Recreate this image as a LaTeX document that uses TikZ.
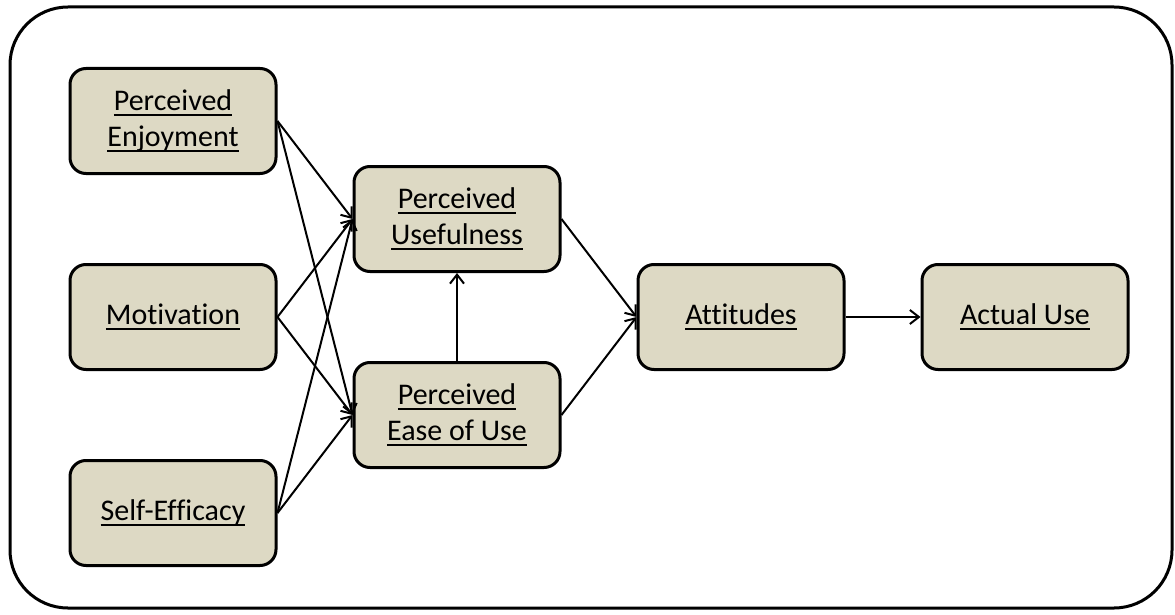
\documentclass[tikz,border=0pt]{standalone}
\usepackage{fontspec}
\setmainfont{Carlito}[Ligatures=NoCommon]
\usepackage{tikz}
\usetikzlibrary{arrows.meta,positioning,calc}
\definecolor{tanfill}{HTML}{DDD9C4}
\newcommand{\ulword}[1]{\setbox0\hbox{#1}\rlap{\vrule height -3pt depth 5pt width \wd0}\box0}
\tikzset{
  construct/.style={draw,line width=3pt,rounded corners=16pt,fill=tanfill,align=center,
    minimum width=206pt,minimum height=105pt,inner sep=2pt,font=\fontsize{30}{36}\selectfont},
  arr/.style={-{Straight Barb[length=9pt,width=14pt]},line width=2pt},
  frame/.style={draw,line width=3pt,rounded corners=58pt}
}

\begin{document}
\begin{tikzpicture}[node distance=88pt and 75pt]
\useasboundingbox (0,0) rectangle (1175pt,-615pt);
\draw[frame] (10pt,-7pt) rectangle (1172pt,-608pt);
\node[construct] (enjoy) at (173pt,-121pt) {\ulword{Perceived}\\\ulword{Enjoyment}};
\node[construct,below=of enjoy] (motiv) {\ulword{Motivation}};
\node[construct,below=of motiv] (selfeff) {\ulword{Self-Efficacy}};
\coordinate (ue) at ($(enjoy.east)!0.5!(motiv.east)$);
\node[construct,right=75pt of ue] (useful) {\ulword{Perceived}\\\ulword{Usefulness}};
\node[construct,below=of useful] (ease) {\ulword{Perceived}\\\ulword{Ease of Use}};
\coordinate (ae) at ($(useful.east)!0.5!(ease.east)$);
\node[construct,right=75pt of ae] (attit) {\ulword{Attitudes}};
\node[construct,right=of attit] (actual) {\ulword{Actual Use}};
\foreach \src in {enjoy,motiv,selfeff}{
  \draw[arr] (\src.east) -- (useful.west);
  \draw[arr] (\src.east) -- (ease.west);
}
\draw[arr] (ease) -- (useful);
\draw[arr] (useful.east) -- (attit.west);
\draw[arr] (ease.east) -- (attit.west);
\draw[arr] (attit) -- (actual);
\end{tikzpicture}
\end{document}
